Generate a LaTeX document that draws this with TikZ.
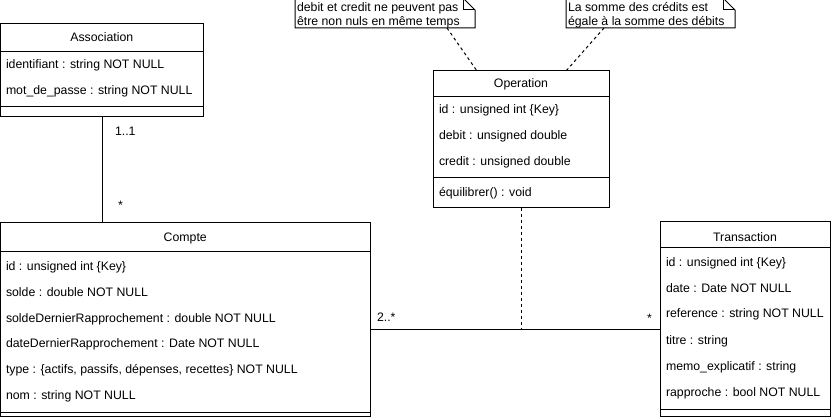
\documentclass[tikz,border=0pt]{standalone}
\usepackage{fontspec}
\setmainfont{Liberation Sans}
\begin{document}
\begin{tikzpicture}[x=1pt,y=-1pt,
  every node/.style={inner sep=0pt, outer sep=0pt},
  classbox/.style={draw=black, line width=1pt, anchor=north west, fill=white},
  sep/.style={draw=black, line width=1pt},
  attr/.style={anchor=base west, font=\fontsize{12.3}{14}\selectfont},
  ttl/.style={anchor=base, font=\fontsize{12.3}{14}\selectfont},
  lbl/.style={anchor=base west, font=\fontsize{12.3}{14}\selectfont},
  conn/.style={draw=black, line width=1pt},
  dconn/.style={draw=black, line width=1pt, dash pattern=on 3pt off 3pt},
  notebox/.style={draw=black, line width=1pt, fill=white},
]
\useasboundingbox (0,0) rectangle (831,417);

% ---------- Association ----------
\node[classbox, minimum width=202.5pt, minimum height=92.5pt] (assoc) at (0.5,24) {};
\draw[sep] (assoc.west |- 0,52) -- (assoc.east |- 0,52);
\draw[sep] (assoc.west |- 0,107) -- (assoc.east |- 0,107);
\node[ttl] (assocT) at (101.75,42) {Association};
\node[attr] (assoc1) at (6,69) {identifiant : string NOT NULL};
\node[attr] (assoc2) at (6,95) {mot\_de\_passe : string NOT NULL};

% ---------- Compte ----------
\node[classbox, minimum width=369.5pt, minimum height=193.5pt] (compte) at (0.5,223) {};
\draw[sep] (compte.west |- 0,252) -- (compte.east |- 0,252);
\draw[sep] (compte.west |- 0,412.5) -- (compte.east |- 0,412.5);
\node[ttl] (compteT) at (185.25,241) {Compte};
\node[attr] (c1) at (6,271) {id : unsigned int \{Key\}};
\node[attr] (c2) at (6,297) {solde : double NOT NULL};
\node[attr] (c3) at (6,322) {soldeDernierRapprochement : double NOT NULL};
\node[attr] (c4) at (6,347) {dateDernierRapprochement : Date NOT NULL};
\node[attr] (c5) at (6,373) {type : \{actifs, passifs, dépenses, recettes\} NOT NULL};
\node[attr] (c6) at (6,399) {nom : string NOT NULL};

% ---------- Transaction ----------
\node[classbox, minimum width=170pt, minimum height=194pt] (trans) at (660,222) {};
\draw[sep] (trans.west |- 0,248) -- (trans.east |- 0,248);
\draw[sep] (trans.west |- 0,409.5) -- (trans.east |- 0,409.5);
\node[ttl] (transT) at (745,241) {Transaction};
\node[attr] (t1) at (666,266) {id : unsigned int \{Key\}};
\node[attr] (t2) at (666,292) {date : Date NOT NULL};
\node[attr] (t3) at (666,317) {reference : string NOT NULL};
\node[attr] (t4) at (666,344) {titre : string};
\node[attr] (t5) at (666,370) {memo\_explicatif : string};
\node[attr] (t6) at (666,396) {rapproche : bool NOT NULL};

% ---------- Operation ----------
\node[classbox, minimum width=176pt, minimum height=137pt] (oper) at (433,71) {};
\draw[sep] (oper.west |- 0,97) -- (oper.east |- 0,97);
\draw[sep] (oper.west |- 0,178) -- (oper.east |- 0,178);
\node[ttl] (operT) at (521,88) {Operation};
\node[attr] (o1) at (439,114) {id : unsigned int \{Key\}};
\node[attr] (o2) at (439,140) {debit : unsigned double};
\node[attr] (o3) at (439,166) {credit : unsigned double};
\node[attr] (o4) at (439,197) {équilibrer() : void};

% ---------- Notes ----------
\path[notebox] (295,-2) -- (463,-2) -- (475,10) -- (475,28) -- (295,28) -- cycle;
\draw[line width=1pt] (463,-2) -- (463,10) -- (475,10);
\node[lbl] (note1a) at (297,12) {debit et credit ne peuvent pas};
\node[lbl] (note1b) at (297,26) {être non nuls en même temps};

\path[notebox] (566,-2) -- (723,-2) -- (735,10) -- (735,28) -- (566,28) -- cycle;
\draw[line width=1pt] (723,-2) -- (723,10) -- (735,10);
\node[lbl] (note2a) at (568,12) {La somme des crédits est};
\node[lbl] (note2b) at (568,26) {égale à la somme des débits};

% ---------- Connectors ----------
\coordinate (ac) at (102,0);
\draw[conn] (assoc.south -| ac) -- (compte.north -| ac);
\node[lbl] (m11) at (115,136) {1..1};
\node[lbl] (mstar1) at (118,210) {*};

\coordinate (cl) at (0,329.5);
\draw[conn] (compte.east |- cl) -- (trans.west |- cl);
\node[lbl] (m2s) at (377,321) {2..*};
\node[lbl] (mstar2) at (647,323) {*};

\draw[dconn] (oper.south) -- (oper.south |- cl);

\coordinate (n1) at (447,28);
\coordinate (n1o) at (477,71);
\draw[dconn] (n1) -- (n1o);
\coordinate (n2) at (604,28);
\coordinate (n2o) at (566,71);
\draw[dconn] (n2) -- (n2o);
\end{tikzpicture}
\end{document}
